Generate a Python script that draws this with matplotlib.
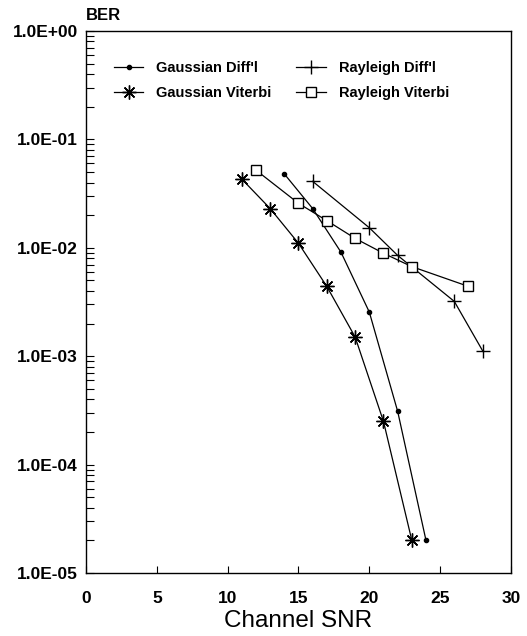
import math

import matplotlib
matplotlib.use("Agg")
import matplotlib.pyplot as plt
from matplotlib.ticker import LogLocator, FuncFormatter, NullFormatter

plt.rcParams["font.family"] = ["Liberation Sans", "DejaVu Sans"]

# values
snr_gauss_diff = [14, 16, 18, 20, 22, 24]
ber_gauss_diff = [4.8e-2, 2.3e-2, 9.1e-3, 2.55e-3, 3.1e-4, 2.0e-5]

snr_gauss_vit = [11, 13, 15, 17, 19, 21, 23]
ber_gauss_vit = [4.3e-2, 2.3e-2, 1.1e-2, 4.4e-3, 1.5e-3, 2.5e-4, 2.0e-5]

snr_ray_diff = [16, 20, 22, 26, 28]
ber_ray_diff = [4.1e-2, 1.53e-2, 8.5e-3, 3.2e-3, 1.12e-3]

snr_ray_vit = [12, 15, 17, 19, 21, 23, 27]
ber_ray_vit = [5.2e-2, 2.57e-2, 1.78e-2, 1.22e-2, 8.9e-3, 6.7e-3, 4.4e-3]

x_ticks = [0, 5, 10, 15, 20, 25, 30]

fig = plt.figure(figsize=(5.27, 6.36), dpi=100)
ax = fig.add_axes([0.1632, 0.0991, 0.8064, 0.8522])

lw = 0.9
ax.plot(snr_gauss_diff, ber_gauss_diff, color="black", lw=lw, marker="o",
        ms=3, mfc="black", label="Gaussian Diff'l")
ax.plot(snr_gauss_vit, ber_gauss_vit, color="black", lw=lw, marker=(8, 2, 0),
        ms=10, mew=1.0, label="Gaussian Viterbi")
ax.plot(snr_ray_diff, ber_ray_diff, color="black", lw=lw, marker="+",
        ms=10, mew=1.0, label="Rayleigh Diff'l")
ax.plot(snr_ray_vit, ber_ray_vit, color="black", lw=lw, marker="s",
        ms=7.5, mfc="white", mew=1.0, label="Rayleigh Viterbi")

ax.set_yscale("log")
ax.set_xlim(0, 30)
ax.set_ylim(1e-5, 1)
ax.set_xticks(x_ticks)
ax.yaxis.set_major_locator(LogLocator(base=10, numticks=10))
ax.yaxis.set_minor_locator(LogLocator(base=10, subs=range(2, 10), numticks=50))
ax.yaxis.set_minor_formatter(NullFormatter())
ax.yaxis.set_major_formatter(FuncFormatter(
    lambda v, p: "1.0E{:+03d}".format(int(round(math.log10(v))))))

ax.tick_params(axis="y", which="both", direction="in", length=6, width=0.8,
               right=False, labelsize=12.5, pad=6)
ax.tick_params(axis="x", direction="in", length=5, width=0.8, top=False,
               labelsize=12.5, pad=13)
for lab in ax.get_xticklabels() + ax.get_yticklabels():
    lab.set_fontweight("bold")

for s in ax.spines.values():
    s.set_linewidth(1.0)

ax.set_xlabel("Channel SNR", fontsize=17.5, labelpad=3)
ax.text(0.0, 1.014, "BER", transform=ax.transAxes, ha="left", va="bottom",
        fontsize=12, fontweight="bold")

# columns: Gaussian curves left, Rayleigh curves right
ax.legend(loc="upper left", bbox_to_anchor=(0.035, 0.968), ncol=2,
          frameon=False, handlelength=2.0, columnspacing=1.7,
          handletextpad=0.9, labelspacing=0.75,
          prop={"weight": "bold", "size": 10.5})

fig.savefig("out.png", dpi=100)
